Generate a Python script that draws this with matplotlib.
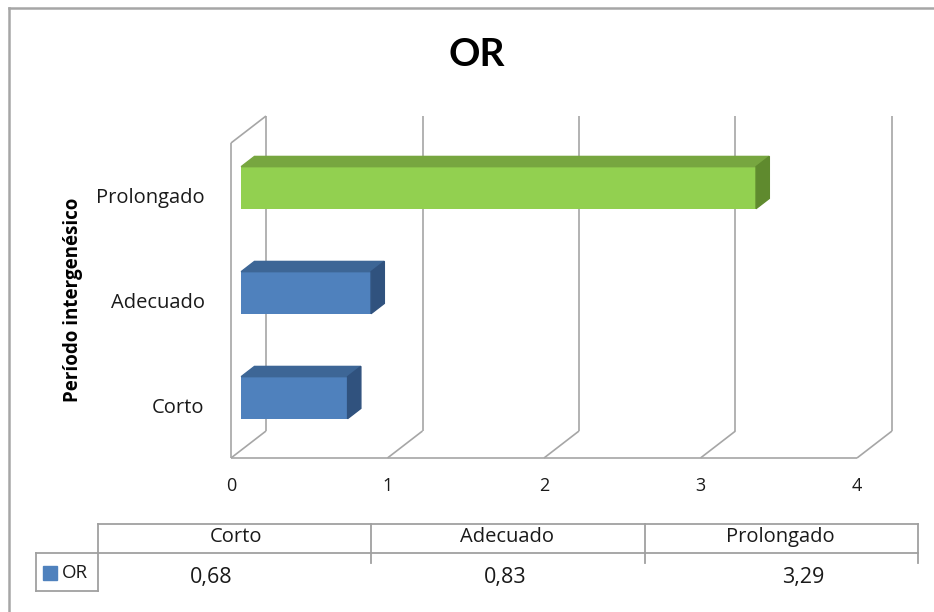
import matplotlib.pyplot as plt
from matplotlib.patches import Polygon

plt.rcParams['font.family'] = ['Open Sans', 'DejaVu Sans']

# data
categories = ['Corto', 'Adecuado', 'Prolongado']
or_values = [0.68, 0.83, 3.29]
series_name = 'OR'
x_ticks = [0, 1, 2, 3, 4]

# colours per bar: front, top, side
face_cols = ['#4F81BD', '#4F81BD', '#92D050']
top_cols = ['#3D6696', '#3D6696', '#77A640']
side_cols = ['#30527E', '#30527E', '#5F8A2E']
grid_col = '#A6A6A6'
txt_col = '#1A1A1A'

W, H = 934, 612
fig = plt.figure(figsize=(W / 100, H / 100), dpi=100)


def fx(px):
    return px / W


def fy(py):
    return 1 - py / H


ax = fig.add_axes([fx(231), fy(458), (857 - 231) / W, (458 - 143) / H])
ax.set_xlim(0, 4)
ax.set_ylim(-0.5, 2.5)
for s in ax.spines.values():
    s.set_visible(False)
ax.set_facecolor('none')

# depth of the 3d box in data units
DX, DY = 35 / 156.5, 27 / 105
y0, y1 = ax.get_ylim()

gkw = dict(color=grid_col, lw=1.2, clip_on=False, zorder=1, solid_capstyle='butt')
for x in x_ticks:
    ax.plot([x + DX, x + DX], [y0 + DY, y1 + DY], **gkw)
    ax.plot([x, x + DX], [y0, y0 + DY], **gkw)
ax.plot([0, 4], [y0, y0], **gkw)
ax.plot([0, 0], [y0, y1], **gkw)
ax.plot([0, DX], [y1, y1 + DY], **gkw)

# 3d bars
bar_h = 0.4
f, b = 0.29, 0.67
for i, v in enumerate(or_values):
    ax.barh(i + f * DY, v, left=f * DX, height=bar_h, color=face_cols[i],
            zorder=3, clip_on=False)
    top = i + bar_h / 2
    bot = i - bar_h / 2
    ax.add_patch(Polygon([(f * DX, top + f * DY), (v + f * DX, top + f * DY),
                          (v + b * DX, top + b * DY), (b * DX, top + b * DY)],
                         closed=True, color=top_cols[i], zorder=3, clip_on=False))
    ax.add_patch(Polygon([(v + f * DX, bot + f * DY), (v + f * DX, top + f * DY),
                          (v + b * DX, top + b * DY), (v + b * DX, bot + b * DY)],
                         closed=True, color=side_cols[i], zorder=3, clip_on=False))

ax.set_xticks(x_ticks)
ax.set_xticklabels([str(t) for t in x_ticks], fontsize=13, color=txt_col)
ax.set_yticks(range(len(categories)))
ax.set_yticklabels(categories, fontsize=14.5, color=txt_col)
ax.tick_params(axis='x', length=0, pad=14)
ax.tick_params(axis='y', length=0, pad=19)

fig.text(fx(477), fy(54), 'OR', fontsize=28, fontweight='bold',
         ha='center', va='center', family=['Lato', 'DejaVu Sans'])
fig.text(fx(73), fy(300), 'Período intergenésico', fontsize=13.5,
         fontweight='bold', rotation=90, ha='center', va='center')

# chart border
bkw = dict(color='#A6A6A6', lw=1.8, transform=fig.transFigure)
fig.add_artist(plt.Line2D([fx(9), fx(9)], [fy(8), fy(612)], **bkw))
fig.add_artist(plt.Line2D([fx(9), fx(934)], [fy(8), fy(8)], **bkw))

# data table below the chart
tkw = dict(color='#A0A0A0', lw=1.3, transform=fig.transFigure)
segs = [
    ((98, 524), (918, 524)),
    ((36, 553), (918, 553)),
    ((98, 524), (98, 591)),
    ((371, 524), (371, 563)),
    ((645, 524), (645, 563)),
    ((918, 524), (918, 563)),
    ((36, 553), (36, 591)),
    ((36, 591), (98, 591)),
]
for (xa, ya), (xb, yb) in segs:
    fig.add_artist(plt.Line2D([fx(xa), fx(xb)], [fy(ya), fy(yb)], **tkw))

head_x = [236, 507, 780]
val_x = [211, 505, 803]
for i, cat in enumerate(categories):
    fig.text(fx(head_x[i]), fy(537), cat, fontsize=14.5, ha='center', va='center',
             color=txt_col)
    fig.text(fx(val_x[i]), fy(577), f'{or_values[i]:.2f}'.replace('.', ','),
             fontsize=15.5, ha='center', va='center', color=txt_col)

fig.add_artist(plt.Rectangle((fx(43), fy(580)), 14 / W, 14 / H,
                             color=face_cols[0], transform=fig.transFigure))
fig.text(fx(62), fy(573), series_name, fontsize=13.5, ha='left', va='center',
         color=txt_col)

fig.savefig('out.png', dpi=100, facecolor='white')
